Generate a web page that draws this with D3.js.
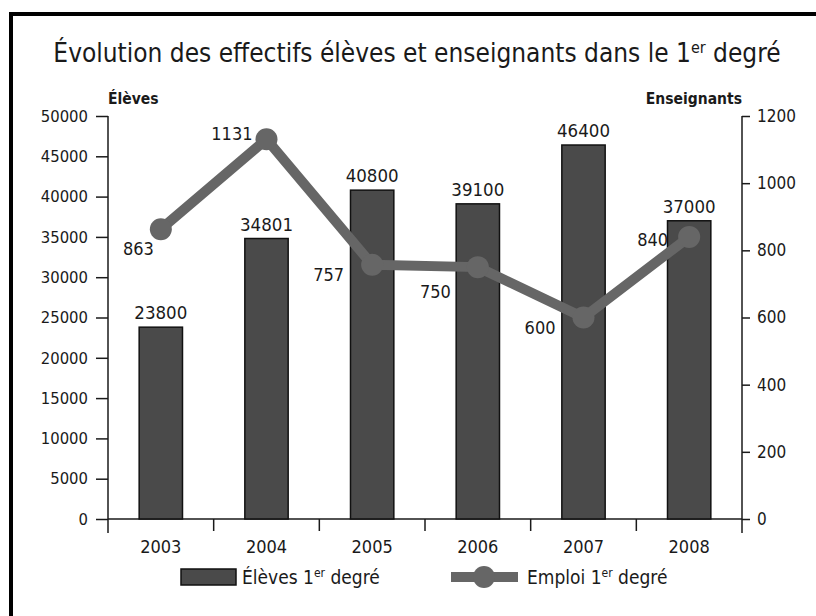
<!DOCTYPE html>
<html><head><meta charset="utf-8">
<script src="https://cdn.jsdelivr.net/npm/d3@7"></script>
<style>
body{margin:0;background:#fff}
text{font-family:"DejaVu Sans Condensed","DejaVu Sans",sans-serif;fill:#1a1a1a}
</style>
</head><body>
<svg id="c" width="816" height="616"></svg>
<script>
const years = ["2003","2004","2005","2006","2007","2008"];
const eleves = [23800,34801,40800,39100,46400,37000];
const emploi = [863,1131,757,750,600,840];
const leftTicks = [0,5000,10000,15000,20000,25000,30000,35000,40000,45000,50000];
const rightTicks = [0,200,400,600,800,1000,1200];
// label placement for the line values (offset from point: dx to text end, dy to baseline)
const emploiLabelDx = [-7,-14,-28,-27,-28,-21];
const emploiLabelDy = [26,1,16,31,16,9];

const svg = d3.select("#c");
// frame
svg.append("rect").attr("x",11).attr("y",14).attr("width",900).attr("height",700)
  .attr("fill","#fff").attr("stroke","#000").attr("stroke-width",4);

const x = d3.scaleBand().domain(years).range([108,742]).padding(0);
const yL = d3.scaleLinear().domain([0,50000]).range([519,116]);
const yR = d3.scaleLinear().domain([0,1200]).range([519,116]);
const ink = "#1a1a1a";

// title
const title = svg.append("text").attr("x",417).attr("y",62).attr("text-anchor","middle")
  .style("font-size","26px");
title.append("tspan").text("Évolution des effectifs élèves et enseignants dans le 1");
title.append("tspan").text("er").attr("dy",-9).style("font-size","16px");
title.append("tspan").text(" degré").attr("dy",9);

svg.append("text").attr("x",108).attr("y",104).style("font-size","15.5px").style("font-weight","bold").text("Élèves");
svg.append("text").attr("x",742).attr("y",104).attr("text-anchor","end").style("font-size","15.5px").style("font-weight","bold").text("Enseignants");

// left axis
const gL = svg.append("g").attr("transform","translate(108,0)")
  .call(d3.axisLeft(yL).tickValues(leftTicks).tickSize(12).tickSizeOuter(0).tickPadding(8).tickFormat(d3.format("d")));
gL.select(".domain").remove();
gL.selectAll("text").style("font-size","16.5px").attr("fill",ink);
gL.selectAll("line").attr("stroke",ink).attr("stroke-width",1.5);

const gR = svg.append("g").attr("transform","translate(742,0)")
  .call(d3.axisRight(yR).tickValues(rightTicks).tickSize(8).tickSizeOuter(0).tickPadding(7).tickFormat(d3.format("d")));
gR.select(".domain").remove();
gR.selectAll("text").style("font-size","17px").attr("fill",ink);
gR.selectAll("line").attr("stroke",ink).attr("stroke-width",1.5);

// axis lines
svg.append("line").attr("x1",108).attr("x2",108).attr("y1",yL(50000)).attr("y2",533).attr("stroke",ink).attr("stroke-width",1.5);
svg.append("line").attr("x1",742).attr("x2",742).attr("y1",yR(1200)).attr("y2",533).attr("stroke",ink).attr("stroke-width",1.5);
svg.append("line").attr("x1",108).attr("x2",742).attr("y1",yL(0)).attr("y2",yL(0)).attr("stroke",ink).attr("stroke-width",1.5);

// bottom ticks at band boundaries
const bounds = years.slice(1).map(d=>x(d));
svg.selectAll(".bt").data(bounds).join("line").attr("x1",d=>d).attr("x2",d=>d)
  .attr("y1",yL(0)).attr("y2",531).attr("stroke",ink).attr("stroke-width",1.5);
svg.selectAll(".yl").data(years).join("text").attr("x",d=>x(d)+x.bandwidth()/2).attr("y",553)
  .attr("text-anchor","middle").style("font-size","18px").text(d=>d);

// bars
const bw = x.bandwidth()*0.41;
svg.selectAll(".bar").data(eleves).join("rect")
  .attr("x",(d,i)=>x(years[i])+x.bandwidth()/2-bw/2).attr("width",bw)
  .attr("y",d=>yL(d)).attr("height",d=>yL(0)-yL(d))
  .attr("fill","#4a4a4a").attr("stroke","#111").attr("stroke-width",1.5);
svg.selectAll(".bl").data(eleves).join("text")
  .attr("x",(d,i)=>x(years[i])+x.bandwidth()/2).attr("y",d=>yL(d)-8)
  .attr("text-anchor","middle").style("font-size","18.5px").text(d=>d);

// line
const cx = i=>x(years[i])+x.bandwidth()/2;
const line = d3.line().x((d,i)=>cx(i)).y(d=>yR(d));
svg.append("path").datum(emploi).attr("d",line).attr("fill","none")
  .attr("stroke","#666").attr("stroke-width",10).attr("stroke-linejoin","round");
svg.selectAll(".pt").data(emploi).join("circle").attr("cx",(d,i)=>cx(i)).attr("cy",d=>yR(d))
  .attr("r",11).attr("fill","#666");
svg.selectAll(".pl").data(emploi).join("text")
  .attr("x",(d,i)=>cx(i)+emploiLabelDx[i])
  .attr("y",(d,i)=>yR(d)+emploiLabelDy[i])
  .attr("text-anchor","end").style("font-size","18px").text(d=>d);

// legend
svg.append("rect").attr("x",181).attr("y",569).attr("width",55).attr("height",16)
  .attr("fill","#4a4a4a").attr("stroke","#111").attr("stroke-width",1.5);
const t1 = svg.append("text").attr("x",242).attr("y",584).style("font-size","19px");
t1.append("tspan").text("Élèves 1");
t1.append("tspan").text("er").attr("dy",-7).style("font-size","12px");
t1.append("tspan").text(" degré").attr("dy",7);
svg.append("line").attr("x1",451).attr("x2",518).attr("y1",577).attr("y2",577)
  .attr("stroke","#666").attr("stroke-width",10);
svg.append("circle").attr("cx",484).attr("cy",577).attr("r",11).attr("fill","#666");
const t2 = svg.append("text").attr("x",527).attr("y",584).style("font-size","19px");
t2.append("tspan").text("Emploi 1");
t2.append("tspan").text("er").attr("dy",-7).style("font-size","12px");
t2.append("tspan").text(" degré").attr("dy",7);
</script>
</body></html>
